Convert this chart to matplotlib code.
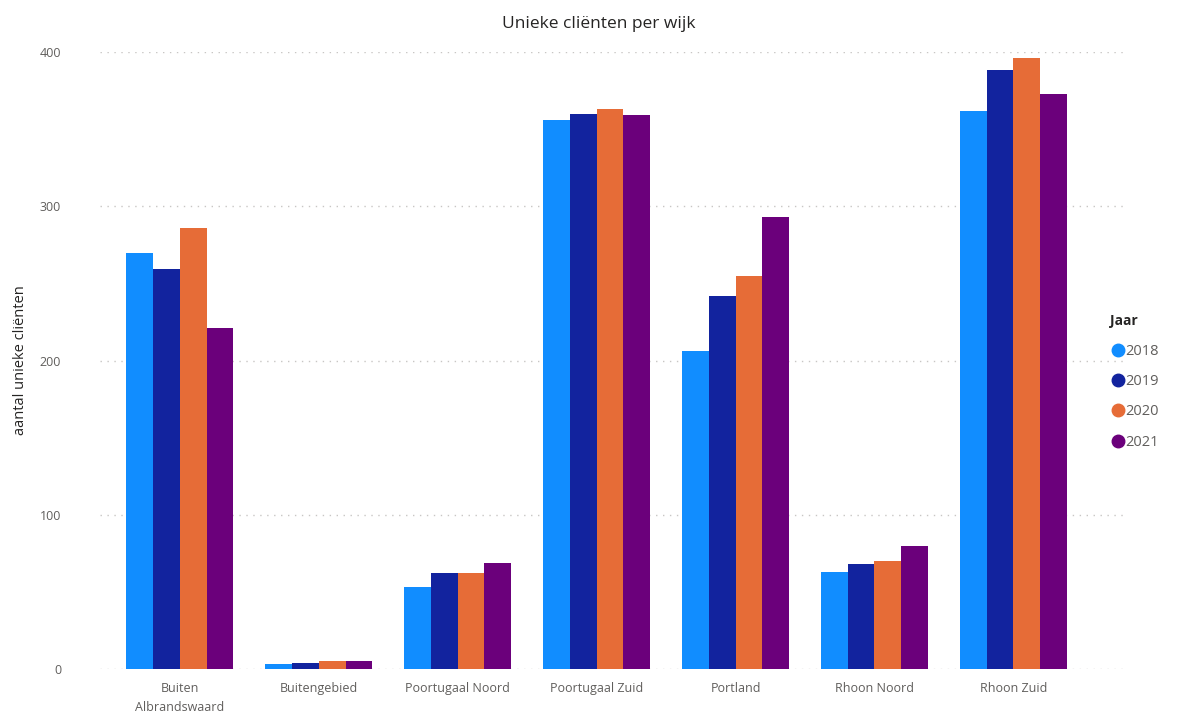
import matplotlib
matplotlib.use("Agg")
import matplotlib.pyplot as plt
import numpy as np
from matplotlib.lines import Line2D

categories = ["Buiten\nAlbrandswaard", "Buitengebied", "Poortugaal Noord", "Poortugaal Zuid",
              "Portland", "Rhoon Noord", "Rhoon Zuid"]
years = ["2018", "2019", "2020", "2021"]
v2018 = [270, 3, 53, 356, 206, 63, 362]
v2019 = [259, 4, 62, 360, 242, 68, 388]
v2020 = [286, 5, 62, 363, 255, 70, 396]
v2021 = [221, 5, 69, 359, 293, 80, 373]
series = [v2018, v2019, v2020, v2021]
colors = ["#118DFF", "#12239E", "#E66C37", "#6B007B"]

plt.rcParams['font.family'] = ['Open Sans', 'DejaVu Sans']

fig = plt.figure(figsize=(11.8, 7.18), dpi=100)
ax = fig.add_axes([0.0847, 0.0682, 0.953 - 0.0847, 0.9276 - 0.0682])

x = np.arange(len(categories))
bw = 0.1925
for i, (vals, c) in enumerate(zip(series, colors)):
    ax.bar(x + (i - 1.5) * bw, vals, width=bw, color=c, label=years[i], zorder=3)

ax.set_ylim(0, 400)
ax.set_xlim(-0.575, 6.8)
ax.set_yticks([0, 100, 200, 300, 400])
ax.set_xticks(x)
ax.set_xticklabels(categories, fontsize=9, color="#605E5C", linespacing=1.6)
ax.tick_params(axis='y', labelsize=9, labelcolor="#605E5C", length=0, pad=28)
ax.tick_params(axis='x', length=0, pad=9)
for lab in ax.get_yticklabels():
    lab.set_horizontalalignment('right')
ax.grid(axis='y', linestyle=(0, (1, 4)), color="#C8C6C4", linewidth=1, zorder=0)
for s in ax.spines.values():
    s.set_visible(False)

ax.set_ylabel("aantal unieke cliënten", fontsize=10.5, color="#252423", labelpad=10)
ax.yaxis.set_label_coords(-0.07, 0.5)
fig.text(0.507, 0.967, "Unieke cliënten per wijk", ha='center', va='center', fontsize=12.5, color="#252423")

handles = [Line2D([0], [0], marker='o', linestyle='', markersize=9, markerfacecolor=c,
                  markeredgecolor=c) for c in colors]
leg = fig.legend(handles, years, title="Jaar", loc='upper left', bbox_to_anchor=(0.941, 0.562),
                 frameon=False, fontsize=10.5, handletextpad=0.05, labelspacing=1.05,
                 handlelength=1.0, borderaxespad=0, borderpad=0)
leg.get_title().set_fontweight('bold')
leg.get_title().set_fontsize(10)
leg.get_title().set_color("#252423")
leg._legend_box.align = "left"
for t in leg.get_texts():
    t.set_color("#605E5C")

fig.savefig("out.png", dpi=100, facecolor="white")
